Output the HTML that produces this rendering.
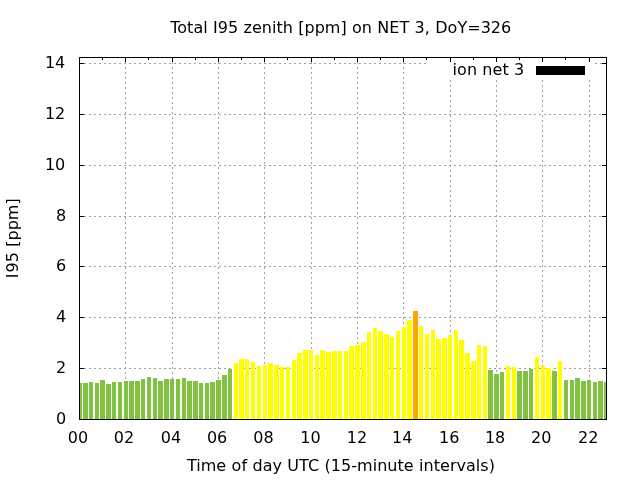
<!DOCTYPE html>
<html><head><meta charset="utf-8"><title>Total I95 zenith</title>
<style>html,body{margin:0;padding:0;background:#fff}svg{display:block}text{font-family:"DejaVu Sans","Liberation Sans",sans-serif;font-size:16px;fill:#000;}</style></head>
<body>
<svg width="640" height="480" viewBox="0 0 640 480">
<rect width="640" height="480" fill="#fff"/>
<g stroke="#a0a0a0" stroke-width="1" stroke-dasharray="2 3" fill="none">
<path d="M79 368.5H606"/>
<path d="M79 317.5H606"/>
<path d="M79 266.5H606"/>
<path d="M79 216.5H606"/>
<path d="M79 165.5H606"/>
<path d="M79 114.5H606"/>
<path d="M79 63.5H427.0M595.0 63.5H606"/>
<path d="M125.5 57.0V419"/>
<path d="M172.5 57.0V419"/>
<path d="M218.5 57.0V419"/>
<path d="M264.5 57.0V419"/>
<path d="M311.5 57.0V419"/>
<path d="M357.5 57.0V419"/>
<path d="M403.5 57.0V419"/>
<path d="M450.5 80.0V419"/>
<path d="M496.5 80.0V419"/>
<path d="M542.5 80.0V419"/>
<path d="M589.5 80.0V419"/>
</g>
<g stroke="#000" stroke-width="1" fill="none" shape-rendering="crispEdges">
<path d="M79 419.5H84M606 419.5H602"/>
<path d="M79 368.5H84M606 368.5H602"/>
<path d="M79 317.5H84M606 317.5H602"/>
<path d="M79 266.5H84M606 266.5H602"/>
<path d="M79 216.5H84M606 216.5H602"/>
<path d="M79 165.5H84M606 165.5H602"/>
<path d="M79 114.5H84M606 114.5H602"/>
<path d="M79 63.5H84M606 63.5H602"/>
<path d="M79.5 58V62.00"/>
<path d="M102.5 58V59.75"/>
<path d="M125.5 58V62.00"/>
<path d="M148.5 58V59.75"/>
<path d="M172.5 58V62.00"/>
<path d="M195.5 58V59.75"/>
<path d="M218.5 58V62.00"/>
<path d="M241.5 58V59.75"/>
<path d="M264.5 58V62.00"/>
<path d="M287.5 58V59.75"/>
<path d="M311.5 58V62.00"/>
<path d="M334.5 58V59.75"/>
<path d="M357.5 58V62.00"/>
<path d="M380.5 58V59.75"/>
<path d="M403.5 58V62.00"/>
<path d="M426.5 58V59.75"/>
<path d="M450.5 58V62.00"/>
<path d="M473.5 58V59.75"/>
<path d="M496.5 58V62.00"/>
<path d="M519.5 58V59.75"/>
<path d="M542.5 58V62.00"/>
<path d="M565.5 58V59.75"/>
<path d="M589.5 58V62.00"/>
</g>
<text x="452.5" y="75" style="letter-spacing:0.1px">ion net 3</text>
<rect x="536" y="66" width="49" height="9" fill="#000" shape-rendering="crispEdges"/>
<g shape-rendering="crispEdges">
<rect x="79" y="383" width="3" height="37" fill="#81c341"/>
<rect x="83" y="383" width="5" height="37" fill="#81c341"/>
<rect x="89" y="382" width="4" height="38" fill="#81c341"/>
<rect x="95" y="383" width="4" height="37" fill="#81c341"/>
<rect x="100" y="380" width="5" height="40" fill="#81c341"/>
<rect x="106" y="384" width="5" height="36" fill="#81c341"/>
<rect x="112" y="382" width="4" height="38" fill="#81c341"/>
<rect x="118" y="382" width="4" height="38" fill="#81c341"/>
<rect x="124" y="381" width="4" height="39" fill="#81c341"/>
<rect x="129" y="381" width="5" height="39" fill="#81c341"/>
<rect x="135" y="381" width="5" height="39" fill="#81c341"/>
<rect x="141" y="379" width="4" height="41" fill="#81c341"/>
<rect x="147" y="377" width="4" height="43" fill="#81c341"/>
<rect x="153" y="378" width="4" height="42" fill="#81c341"/>
<rect x="158" y="381" width="5" height="39" fill="#81c341"/>
<rect x="164" y="379" width="5" height="41" fill="#81c341"/>
<rect x="170" y="379" width="4" height="41" fill="#81c341"/>
<rect x="176" y="379" width="4" height="41" fill="#81c341"/>
<rect x="182" y="378" width="4" height="42" fill="#81c341"/>
<rect x="187" y="381" width="5" height="39" fill="#81c341"/>
<rect x="193" y="381" width="5" height="39" fill="#81c341"/>
<rect x="199" y="383" width="4" height="37" fill="#81c341"/>
<rect x="205" y="383" width="4" height="37" fill="#81c341"/>
<rect x="210" y="382" width="5" height="38" fill="#81c341"/>
<rect x="216" y="380" width="5" height="40" fill="#81c341"/>
<rect x="222" y="375" width="5" height="45" fill="#81c341"/>
<rect x="228" y="369" width="4" height="51" fill="#81c341"/>
<rect x="234" y="363" width="4" height="57" fill="#ffff00"/>
<rect x="239" y="359" width="5" height="61" fill="#ffff00"/>
<rect x="245" y="359" width="4" height="61" fill="#ffff00"/>
<rect x="251" y="362" width="4" height="58" fill="#ffff00"/>
<rect x="257" y="366" width="4" height="54" fill="#ffff00"/>
<rect x="263" y="365" width="4" height="55" fill="#ffff00"/>
<rect x="268" y="363" width="5" height="57" fill="#ffff00"/>
<rect x="274" y="365" width="5" height="55" fill="#ffff00"/>
<rect x="280" y="367" width="4" height="53" fill="#ffff00"/>
<rect x="286" y="367" width="4" height="53" fill="#ffff00"/>
<rect x="292" y="360" width="4" height="60" fill="#ffff00"/>
<rect x="297" y="353" width="5" height="67" fill="#ffff00"/>
<rect x="303" y="350" width="5" height="70" fill="#ffff00"/>
<rect x="309" y="350" width="4" height="70" fill="#ffff00"/>
<rect x="315" y="355" width="4" height="65" fill="#ffff00"/>
<rect x="320" y="350" width="5" height="70" fill="#ffff00"/>
<rect x="326" y="352" width="5" height="68" fill="#ffff00"/>
<rect x="332" y="351" width="5" height="69" fill="#ffff00"/>
<rect x="338" y="351" width="4" height="69" fill="#ffff00"/>
<rect x="344" y="351" width="4" height="69" fill="#ffff00"/>
<rect x="349" y="346" width="5" height="74" fill="#ffff00"/>
<rect x="355" y="345" width="5" height="75" fill="#ffff00"/>
<rect x="361" y="342" width="5" height="78" fill="#ffff00"/>
<rect x="367" y="332" width="4" height="88" fill="#ffff00"/>
<rect x="373" y="328" width="4" height="92" fill="#ffff00"/>
<rect x="378" y="331" width="5" height="89" fill="#ffff00"/>
<rect x="384" y="334" width="5" height="86" fill="#ffff00"/>
<rect x="390" y="337" width="4" height="83" fill="#ffff00"/>
<rect x="396" y="331" width="4" height="89" fill="#ffff00"/>
<rect x="402" y="327" width="4" height="93" fill="#ffff00"/>
<rect x="407" y="320" width="5" height="100" fill="#ffff00"/>
<rect x="413" y="311" width="5" height="109" fill="#ffa500"/>
<rect x="419" y="326" width="4" height="94" fill="#ffff00"/>
<rect x="425" y="334" width="4" height="86" fill="#ffff00"/>
<rect x="431" y="330" width="4" height="90" fill="#ffff00"/>
<rect x="436" y="339" width="5" height="81" fill="#ffff00"/>
<rect x="442" y="338" width="5" height="82" fill="#ffff00"/>
<rect x="448" y="335" width="4" height="85" fill="#ffff00"/>
<rect x="454" y="330" width="4" height="90" fill="#ffff00"/>
<rect x="459" y="340" width="5" height="80" fill="#ffff00"/>
<rect x="465" y="353" width="5" height="67" fill="#ffff00"/>
<rect x="471" y="361" width="5" height="59" fill="#ffff00"/>
<rect x="477" y="345" width="4" height="75" fill="#ffff00"/>
<rect x="483" y="346" width="4" height="74" fill="#ffff00"/>
<rect x="488" y="370" width="5" height="50" fill="#81c341"/>
<rect x="494" y="374" width="5" height="46" fill="#81c341"/>
<rect x="500" y="372" width="4" height="48" fill="#81c341"/>
<rect x="506" y="366" width="4" height="54" fill="#ffff00"/>
<rect x="512" y="367" width="4" height="53" fill="#ffff00"/>
<rect x="517" y="371" width="5" height="49" fill="#81c341"/>
<rect x="523" y="371" width="5" height="49" fill="#81c341"/>
<rect x="529" y="369" width="4" height="51" fill="#81c341"/>
<rect x="535" y="357" width="4" height="63" fill="#ffff00"/>
<rect x="541" y="366" width="4" height="54" fill="#ffff00"/>
<rect x="546" y="368" width="5" height="52" fill="#ffff00"/>
<rect x="552" y="371" width="5" height="49" fill="#81c341"/>
<rect x="558" y="361" width="4" height="59" fill="#ffff00"/>
<rect x="564" y="380" width="4" height="40" fill="#81c341"/>
<rect x="570" y="380" width="4" height="40" fill="#81c341"/>
<rect x="575" y="378" width="5" height="42" fill="#81c341"/>
<rect x="581" y="381" width="5" height="39" fill="#81c341"/>
<rect x="587" y="380" width="4" height="40" fill="#81c341"/>
<rect x="593" y="382" width="4" height="38" fill="#81c341"/>
<rect x="598" y="381" width="5" height="39" fill="#81c341"/>
<rect x="604" y="382" width="3" height="38" fill="#81c341"/>
</g>
<rect x="79.5" y="57.5" width="527" height="362" fill="none" stroke="#000" stroke-width="1" shape-rendering="crispEdges"/>
<text x="66.2" y="424.0" text-anchor="end">0</text>
<text x="66.2" y="373.0" text-anchor="end">2</text>
<text x="66.2" y="322.0" text-anchor="end">4</text>
<text x="66.2" y="271.0" text-anchor="end">6</text>
<text x="66.2" y="221.0" text-anchor="end">8</text>
<text x="65.3" y="170.0" text-anchor="end">10</text>
<text x="65.3" y="119.0" text-anchor="end">12</text>
<text x="65.3" y="68.0" text-anchor="end">14</text>
<text x="78.0" y="443" text-anchor="middle">00</text>
<text x="124.0" y="443" text-anchor="middle">02</text>
<text x="170.9" y="443" text-anchor="middle">04</text>
<text x="217.1" y="443" text-anchor="middle">06</text>
<text x="263.5" y="443" text-anchor="middle">08</text>
<text x="310.4" y="443" text-anchor="middle">10</text>
<text x="357.0" y="443" text-anchor="middle">12</text>
<text x="402.3" y="443" text-anchor="middle">14</text>
<text x="449.3" y="443" text-anchor="middle">16</text>
<text x="495.1" y="443" text-anchor="middle">18</text>
<text x="541.2" y="443" text-anchor="middle">20</text>
<text x="588.3" y="443" text-anchor="middle">22</text>
<text x="170.2" y="32.5" style="letter-spacing:0.03px;word-spacing:0.19px">Total I95 zenith [ppm] on NET 3, DoY=326</text>
<text x="186.95" y="470.6" style="letter-spacing:0.03px;word-spacing:0.27px">Time of day UTC (15-minute intervals)</text>
<text transform="translate(18 278.3) rotate(-90)" style="letter-spacing:0.06px">I<tspan dx="1">95</tspan><tspan dx="0.2" style="letter-spacing:0"> [ppm]</tspan></text>
</svg>
</body></html>
